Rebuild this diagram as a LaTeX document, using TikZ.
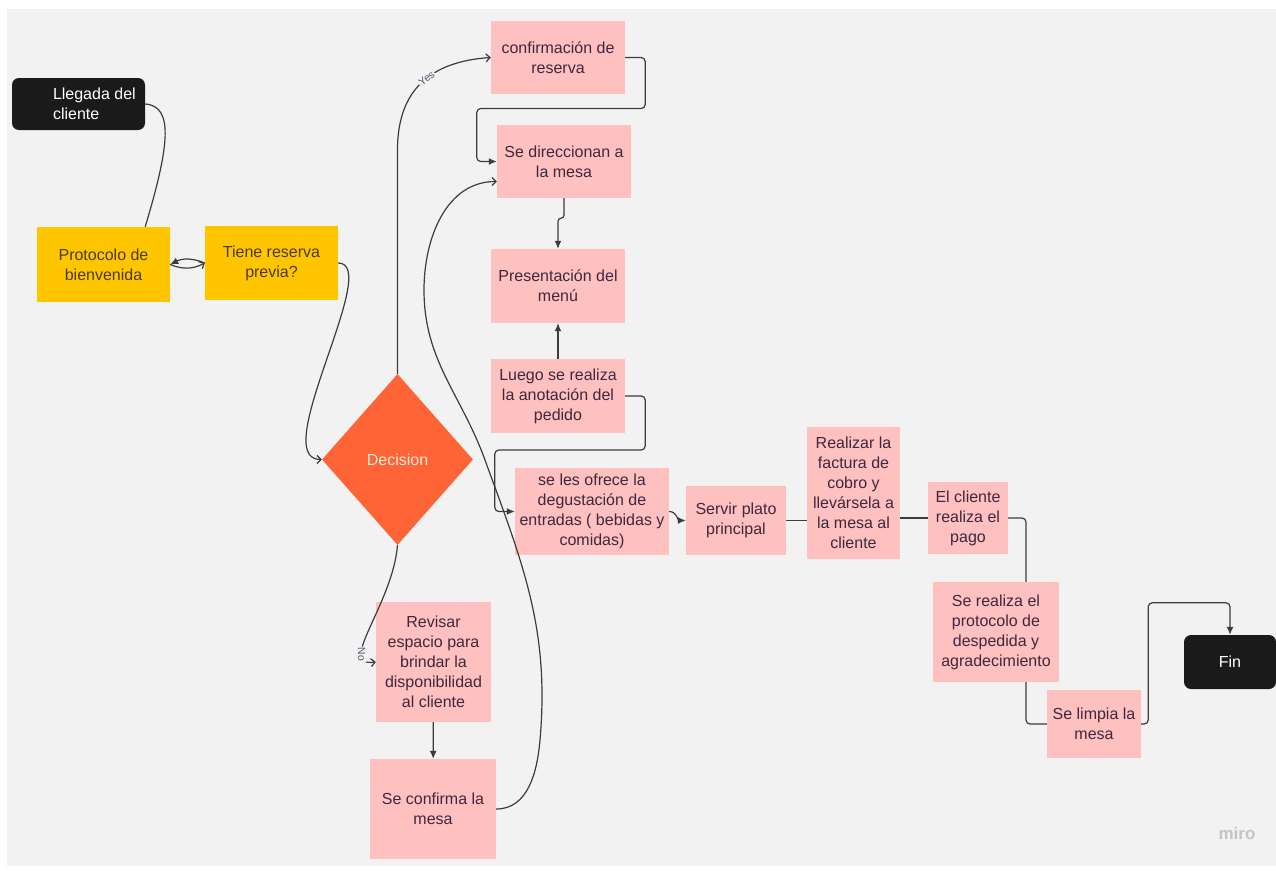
\documentclass[tikz,border=0pt]{standalone}
\usepackage{fontspec}
\setmainfont{Liberation Sans}
\usepackage{tikz}
\usetikzlibrary{shapes.geometric, arrows.meta, positioning, calc}
\definecolor{BoardBg}{RGB}{242, 242, 242}
\definecolor{StickyPink}{RGB}{255, 192, 192}
\definecolor{StickyYellow}{RGB}{255, 198, 0}
\definecolor{DecisionRed}{RGB}{255, 100, 54}
\definecolor{TermBlack}{RGB}{26, 26, 26}
\definecolor{InkPink}{RGB}{62, 40, 62}
\definecolor{InkYellow}{RGB}{74, 58, 16}
\definecolor{LineGray}{RGB}{60, 60, 60}
\definecolor{LabelGray}{RGB}{85, 88, 115}
\definecolor{LogoGray}{RGB}{196, 196, 196}

\begin{document}
\begin{tikzpicture}[x=1pt, y=1pt,
  base/.style={inner sep=3pt, align=center, font=\fontsize{16}{20}\selectfont},
  pink/.style={base, fill=StickyPink, text=InkPink},
  yellow/.style={base, fill=StickyYellow, text=InkYellow},
  term/.style={base, fill=TermBlack, text=white, rounded corners=7pt},
  decide/.style={base, diamond, fill=DecisionRed, text={rgb,255:red,255;green,232;blue,214}, inner sep=0pt},
  line/.style={LineGray, line width=1.2pt},
  arrB/.style={line, -{Latex[length=8pt, width=7pt]}},
  arrT/.style={line, -{Straight Barb[length=4pt, width=8pt]}},
  lbl/.style={fill=BoardBg, text=LabelGray, inner sep=1pt, font=\fontsize{10.5}{12}\selectfont}
]
\useasboundingbox (0,0) rectangle (1276,-870);
\fill[BoardBg] (7,-9) rectangle (1276,-866);

% start / end
\node[term, minimum width=133, minimum height=52] (start) at (78.5,-104)
  {\hspace*{37pt}\parbox{88pt}{\raggedright Llegada del\\cliente}};
\node[term, minimum width=92, minimum height=54] (fin) at (1230,-662) {Fin};

% welcome
\node[yellow, minimum width=133, minimum height=75] (prot) at (103.5,-264.5) {Protocolo de\\bienvenida};
\node[yellow, minimum width=133, minimum height=74] (tiene) at (271.5,-263) {Tiene reserva\\previa?};
\node[decide, minimum width=151, minimum height=171] (dec) at (397.5,-459.5) {Decision};

% left column
\node[pink, minimum width=115, minimum height=120] (rev) at (433.5,-662)
  {Revisar\\espacio para\\brindar la\\disponibilidad\\al cliente};
\node[pink, minimum width=126, minimum height=100] (confm) at (433,-809) {Se confirma la\\mesa};

% middle column
\node[pink, minimum width=134, minimum height=73] (conf) at (558,-57.5) {confirmación de\\reserva};
\node[pink, minimum width=134, minimum height=73] (dir) at (564,-161.5) {Se direccionan a\\la mesa};
\node[pink, minimum width=134, minimum height=74] (pres) at (558,-286) {Presentación del\\menú};
\node[pink, minimum width=134, minimum height=74] (luego) at (558,-396) {Luego se realiza\\la anotación del\\pedido};
\node[pink, minimum width=154, minimum height=87] (ofrece) at (592,-511.5)
  {se les ofrece la\\degustación de\\entradas ( bebidas y\\comidas)};

% right row
\node[pink, minimum width=100, minimum height=69] (servir) at (736,-520.5) {Servir plato\\principal};
\node[pink, minimum width=93, minimum height=132] (factura) at (853.5,-493)
  {Realizar la\\factura de\\cobro y\\llevársela a\\la mesa al\\cliente};
\node[pink, minimum width=80, minimum height=72] (pago) at (968,-518) {El cliente\\realiza el\\pago};
\node[pink, minimum width=126, minimum height=100] (desp) at (996,-632)
  {Se realiza el\\protocolo de\\despedida y\\agradecimiento};
\node[pink, minimum width=94, minimum height=68] (limpia) at (1094,-724) {Se limpia la\\mesa};

\node[text=LogoGray, font=\fontsize{17}{17}\selectfont\bfseries] (logo) at (1237,-833) {miro};

% connectors
\draw[line] (start.east) .. controls +(30,-2) and +(23,77) .. ([xshift=-25]prot.north east);
\draw[arrT] (prot.east) to[bend right=25] (tiene.west);
\draw[arrB] (tiene.west) to[bend right=25] (prot.east);
\draw[arrT] (tiene.east) .. controls +(45,0) and +(-55,0) .. (dec.west);
\draw[arrT] (dec.north) -- ++(0,224) .. controls +(0,60) and +(-60,-4) .. (conf.west)
  node[lbl, pos=0.55, sloped] {Yes};
\draw[arrT] (dec.south) .. controls +(-5,-60) and +(-40,-5) .. (rev.west)
  node[lbl, pos=0.75, sloped] {No};
\draw[arrB] (rev) -- (confm);
\draw[arrT] (confm.east) to[out=0, in=-95] (540,-740) to[out=85, in=-70] (485,-460)
  to[out=110, in=-90] (424,-290) to[out=90, in=180] ([yshift=-20]dir.west);
\draw[arrB, rounded corners=4] (conf.east) -- ++(20,0) -- ++(0,-51) -| ([xshift=-20]dir.west) -- (dir.west);
\draw[arrB, rounded corners=3] (dir.south) -- ++(0,-20) -| (pres.north);
\draw[arrB] (luego) -- (pres);
\draw[arrB, rounded corners=4] (luego.east) -- ++(20,0) -- ++(0,-54) -| ([xshift=-20]ofrece.west) -- (ofrece.west);
\draw[arrB] (ofrece.east) to[out=0, in=180] (servir.west);
\draw[line] (servir.east) -- (servir.east -| factura.west);
\draw[line] (pago.west -| factura.east) -- (pago.west);
\draw[line, rounded corners=4] (pago.east) -| ([xshift=30]desp.north);
\draw[line, rounded corners=4] ([xshift=30]desp.south) |- (limpia.west);
\draw[arrB, rounded corners=4] (limpia.east) -- ++(7,0) |- ([yshift=32]fin.north) -- (fin.north);
\end{tikzpicture}
\end{document}
